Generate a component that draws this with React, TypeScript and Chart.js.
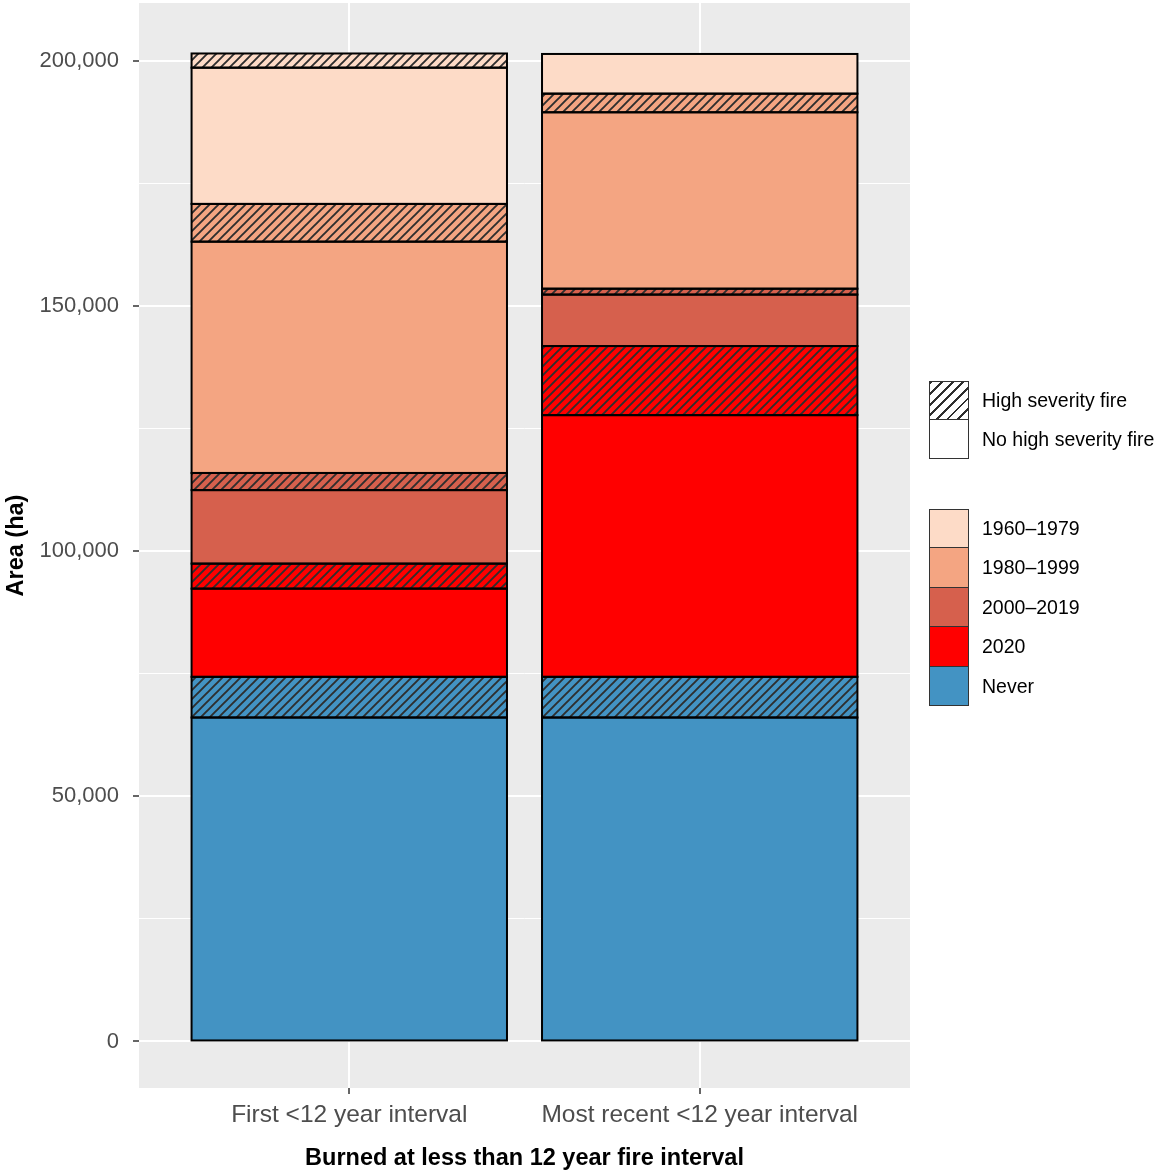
import React, { useEffect, useRef } from 'react';
import { Chart, registerables } from 'chart.js';

Chart.register(...registerables);

// ---- data ----
const categories = ['First <12 year interval', 'Most recent <12 year interval'];
const periodLabels = ['1960–1979', '1980–1999', '2000–2019', '2020', 'Never'];
const severityLabels = ['High severity fire', 'No high severity fire'];

const neverNo = [66100, 66100];
const neverHigh = [8300, 8300];
const y2020No = [18000, 53400];
const y2020High = [5100, 14100];
const y2000No = [15000, 10500];
const y2000High = [3500, 1200];
const y1980No = [47200, 36000];
const y1980High = [7700, 3800];
const y1960No = [27800, 8100];
const y1960High = [2900, 0];

const yTickValues = [0, 25000, 50000, 75000, 100000, 125000, 150000, 175000, 200000];
const yMajorTicks = [0, 50000, 100000, 150000, 200000];

const COLORS: Record<string, string> = {
  '1960–1979': '#FDDBC7',
  '1980–1999': '#F4A582',
  '2000–2019': '#D6604D',
  '2020': '#FF0000',
  'Never': '#4393C3',
};

const FONT = '"Liberation Sans", Arial, Helvetica, sans-serif';

function makeHatch(color: string): CanvasPattern | string {
  const s = 9;
  const c = document.createElement('canvas');
  c.width = s;
  c.height = s;
  const g = c.getContext('2d');
  if (!g) return color;
  g.fillStyle = color;
  g.fillRect(0, 0, s, s);
  g.strokeStyle = '#2E2E2E';
  g.lineWidth = 1.9;
  g.lineCap = 'square';
  g.beginPath();
  g.moveTo(-2, s + 2);
  g.lineTo(s + 2, -2);
  g.moveTo(-2, 2);
  g.lineTo(2, -2);
  g.moveTo(s - 2, s + 2);
  g.lineTo(s + 2, s - 2);
  g.stroke();
  const p = g.createPattern(c, 'repeat');
  return p || color;
}

const panelBg = {
  id: 'panelBg',
  beforeDraw(chart: any) {
    const { ctx, chartArea } = chart;
    ctx.save();
    ctx.fillStyle = '#EBEBEB';
    ctx.fillRect(chartArea.left, chartArea.top, chartArea.right - chartArea.left, chartArea.bottom - chartArea.top);
    ctx.restore();
  },
};

// ggplot-style outlines centred on each segment's edges
const barOutlines = {
  id: 'barOutlines',
  afterDatasetsDraw(chart: any) {
    const { ctx } = chart;
    ctx.save();
    ctx.strokeStyle = '#000000';
    ctx.lineWidth = 2;
    chart.data.datasets.forEach((_: any, di: number) => {
      const meta = chart.getDatasetMeta(di);
      meta.data.forEach((el: any, i: number) => {
        const raw = chart.data.datasets[di].data[i];
        if (!raw || raw.y == null) return;
        const { x, y, base, width } = el.getProps(['x', 'y', 'base', 'width'], true);
        const top = Math.min(y, base);
        const h = Math.abs(base - y);
        ctx.strokeRect(x - width / 2, top, width, h);
      });
    });
    ctx.restore();
  },
};

export default function App() {
  const ref = useRef<HTMLCanvasElement>(null);

  useEffect(() => {
    const canvas = ref.current;
    if (!canvas) return;
    const series = [
      { period: 'Never', high: false, data: neverNo },
      { period: 'Never', high: true, data: neverHigh },
      { period: '2020', high: false, data: y2020No },
      { period: '2020', high: true, data: y2020High },
      { period: '2000–2019', high: false, data: y2000No },
      { period: '2000–2019', high: true, data: y2000High },
      { period: '1980–1999', high: false, data: y1980No },
      { period: '1980–1999', high: true, data: y1980High },
      { period: '1960–1979', high: false, data: y1960No },
      { period: '1960–1979', high: true, data: y1960High },
    ];
    const datasets = series.map((s) => ({
      label: s.period + (s.high ? ' high' : ''),
      data: s.data.map((v, i) => ({ x: i + 1, y: v === 0 ? null : v })),
      backgroundColor: s.high ? makeHatch(COLORS[s.period]) : COLORS[s.period],
      borderWidth: 0,
      barPercentage: 0.9,
      categoryPercentage: 1,
    }));

    const chart = new Chart(canvas, {
      type: 'bar',
      data: { datasets: datasets as any },
      plugins: [panelBg, barOutlines],
      options: {
        animation: false,
        responsive: false,
        devicePixelRatio: 1,
        layout: { padding: { left: 0, top: 3, right: 252, bottom: 0 } },
        plugins: { legend: { display: false }, tooltip: { enabled: false } },
        scales: {
          x: {
            type: 'linear',
            stacked: true,
            min: 0.4,
            max: 2.6,
            offset: false,
            afterBuildTicks: (s: any) => {
              s.ticks = [{ value: 1 }, { value: 2 }];
            },
            afterFit: (s: any) => {
              s.height = 86;
              s.paddingLeft = 0;
              s.paddingRight = 0;
            },
            ticks: {
              callback: (v: any) => categories[Math.round(Number(v)) - 1] ?? '',
              font: { family: FONT, size: 24.5 },
              color: '#4D4D4D',
              padding: 7,
              maxRotation: 0,
              autoSkip: false,
            },
            grid: {
              offset: false,
              color: '#FFFFFF',
              lineWidth: 2,
              tickLength: 6,
              tickColor: '#333333',
              tickWidth: 1.5,
            },
            border: { display: false },
            title: {
              display: true,
              text: 'Burned at less than 12 year fire interval',
              font: { family: FONT, size: 23.5, weight: 'bold' },
              color: '#000000',
              padding: { top: 0, bottom: 1 },
            },
          } as any,
          y: {
            stacked: true,
            min: -9500,
            max: 211900,
            afterBuildTicks: (s: any) => {
              s.ticks = yTickValues.map((v) => ({ value: v }));
            },
            afterFit: (s: any) => {
              s.width = 139;
              s.paddingTop = 0;
              s.paddingBottom = 0;
            },
            ticks: {
              callback: (v: any) => (yMajorTicks.includes(Number(v)) ? Number(v).toLocaleString('en-US') : ''),
              font: { family: FONT, size: 22 },
              color: '#4D4D4D',
              padding: 14,
              autoSkip: false,
            },
            grid: {
              color: '#FFFFFF',
              lineWidth: (c: any) => (yMajorTicks.includes(c.tick?.value) ? 2 : 1),
              tickLength: 6,
              tickColor: (c: any) => (yMajorTicks.includes(c.tick?.value) ? '#333333' : 'rgba(0,0,0,0)'),
              tickWidth: 1.5,
            },
            border: { display: false },
            title: {
              display: true,
              text: 'Area (ha)',
              font: { family: FONT, size: 23.5, weight: 'bold' },
              color: '#000000',
              padding: { top: 2, bottom: 0 },
            },
          } as any,
        },
      },
    });
    return () => chart.destroy();
  }, []);

  const hatchCss = 'repeating-linear-gradient(135deg, #2E2E2E 0px, #2E2E2E 2px, #fff 2px, #fff 7.5px)';
  const textStyle: React.CSSProperties = {
    position: 'absolute',
    left: 982,
    fontFamily: FONT,
    fontSize: 19.5,
    color: '#000000',
    whiteSpace: 'nowrap',
  };
  const boxH = 39.4;

  return (
    <div style={{ position: 'absolute', left: 0, top: 0, width: 1162, height: 1174, background: '#fff' }}>
      <canvas ref={ref} width={1162} height={1174} style={{ display: 'block', width: 1162, height: 1174 }} />
      {severityLabels.map((lab, i) => (
        <React.Fragment key={lab}>
          <div
            style={{
              position: 'absolute',
              left: 929,
              top: 381 + i * 39,
              width: 40,
              height: 39,
              boxSizing: 'border-box',
              border: '1px solid #333',
              borderTop: i === 1 ? 'none' : '1px solid #333',
              background: i === 0 ? hatchCss : '#fff',
            }}
          />
          <div style={{ ...textStyle, top: 381 + i * 39, height: 39, lineHeight: '39px' }}>{lab}</div>
        </React.Fragment>
      ))}
      {periodLabels.map((lab, i) => (
        <React.Fragment key={lab}>
          <div
            style={{
              position: 'absolute',
              left: 929,
              top: 509 + i * boxH,
              width: 40,
              height: boxH,
              boxSizing: 'border-box',
              border: '1px solid #333',
              borderTop: i === 0 ? '1px solid #333' : 'none',
              background: COLORS[lab],
            }}
          />
          <div style={{ ...textStyle, top: 509 + i * boxH, height: boxH, lineHeight: boxH + 'px' }}>{lab}</div>
        </React.Fragment>
      ))}
    </div>
  );
}
